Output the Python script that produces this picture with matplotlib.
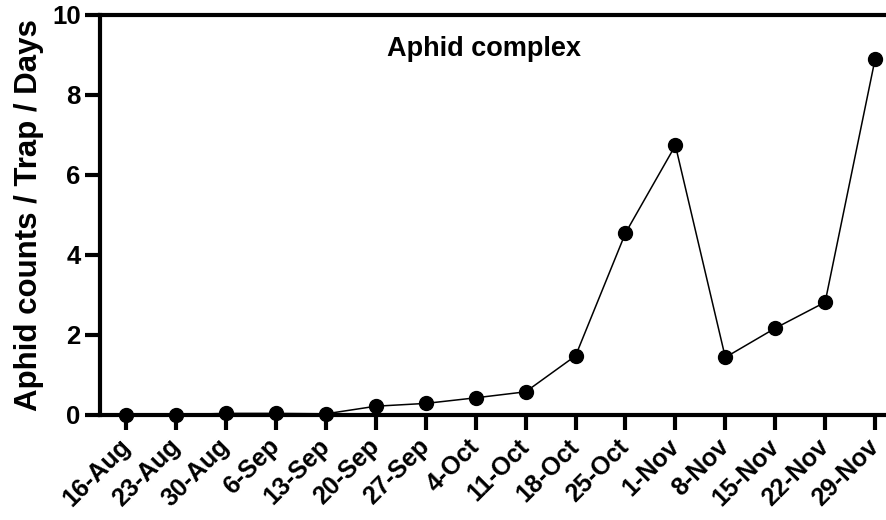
import matplotlib.pyplot as plt

plt.rcParams['font.family'] = ['Liberation Sans', 'DejaVu Sans']
plt.rcParams['font.weight'] = 'bold'

dates = ['16-Aug', '23-Aug', '30-Aug', '6-Sep', '13-Sep', '20-Sep', '27-Sep', '4-Oct',
         '11-Oct', '18-Oct', '25-Oct', '1-Nov', '8-Nov', '15-Nov', '22-Nov', '29-Nov']
counts = [0.01, 0.01, 0.04, 0.04, 0.03, 0.22, 0.29, 0.43,
          0.58, 1.48, 4.55, 6.74, 1.44, 2.17, 2.82, 8.89]
y_ticks = [0, 2, 4, 6, 8, 10]

fig = plt.figure(figsize=(8.87, 5.2), dpi=100)
ax = fig.add_axes([100 / 887, 105 / 520, 787 / 887, 400 / 520])

x = list(range(len(dates)))
ax.plot(x, counts, color='black', linewidth=1.1, marker='o', markersize=10,
        clip_on=False, zorder=3)

ax.set_xlim(-0.53, 15.24)
ax.set_ylim(0, 10)
ax.set_yticks(y_ticks)
ax.set_yticklabels([str(t) for t in y_ticks], fontsize=18.5, fontweight='bold')
ax.set_xticks(x)
ax.set_xticklabels(dates, rotation=45, ha='right', va='center', rotation_mode='anchor',
                   fontsize=18, fontweight='bold')

for side in ['left', 'bottom', 'top']:
    ax.spines[side].set_linewidth(3)
ax.spines['right'].set_visible(False)
ax.tick_params(axis='both', direction='out', length=11, width=3, pad=3)
ax.tick_params(axis='x', pad=9)

ax.set_ylabel('Aphid counts / Trap / Days', fontsize=22.5, fontweight='bold', labelpad=6)
ax.text(0.488, 0.915, 'Aphid complex', transform=ax.transAxes, fontsize=19.5,
        fontweight='bold', ha='center', va='center')

fig.savefig('out.png', dpi=100)
